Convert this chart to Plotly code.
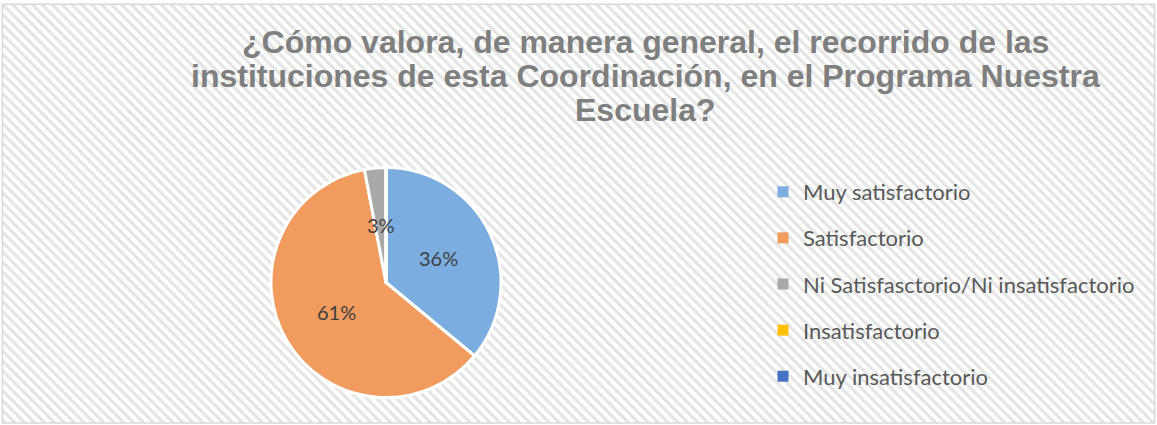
import math
import plotly.graph_objects as go

title_lines = [
    "¿Cómo valora, de manera general, el recorrido de las",
    "instituciones de esta Coordinación, en el Programa Nuestra",
    "Escuela?",
]
categories = [
    "Muy satisfactorio",
    "Satisfactorio",
    "Ni Satisfasctorio/Ni insatisfactorio",
    "Insatisfactorio",
    "Muy insatisfactorio",
]
values = [36, 61, 3, 0, 0]
colors = ["#7BADE0", "#F19B5F", "#A9A9A9", "#FFC000", "#4472C4"]

W, H = 1157, 425
# pie box in pixels
PX0, PX1, PY0, PY1 = 271, 501, 167, 398
CX, CY, R = (PX0 + PX1) / 2, (PY0 + PY1) / 2, (PX1 - PX0) / 2

fig = go.Figure()

# striped chart background
fig.add_trace(go.Bar(
    x=[0.5], y=[1], width=[1],
    marker=dict(color="#FFFFFF", line=dict(width=0),
                pattern=dict(shape="\\", size=7, solidity=0.45,
                             fgcolor="#E4E4E4", bgcolor="#FFFFFF", fillmode="replace")),
    showlegend=False, hoverinfo="skip",
))

fig.add_trace(go.Pie(
    labels=categories, values=values, sort=False, direction="clockwise", rotation=0,
    marker=dict(colors=colors, line=dict(color="#FFFFFF", width=3)),
    textinfo="none",
    domain=dict(x=[PX0 / W, PX1 / W], y=[1 - PY1 / H, 1 - PY0 / H]),
    showlegend=False, hoverinfo="label+percent",
))

# legend entries
for c, col in zip(categories, colors):
    fig.add_trace(go.Scatter(
        x=[None], y=[None], mode="markers", name=c, legendgroup=c,
        marker=dict(symbol="square", size=11, color=col),
    ))

annotations = []
# title lines
for i, line in enumerate(title_lines):
    annotations.append(dict(
        text=line, xref="paper", yref="paper", x=645 / W, y=1 - (42 + 34 * i) / H,
        xanchor="center", yanchor="middle", showarrow=False,
        font=dict(family="Liberation Sans, Arial, sans-serif", size=32, color="#7F7F7F", weight="bold"),
    ))

# data labels at the middle of each slice
total = sum(values)
cum = 0
for v in values:
    if v > 0:
        ang = 2 * math.pi * (cum + v / 2) / total
        lx = CX + 0.5 * R * math.sin(ang)
        ly = CY - 0.5 * R * math.cos(ang)
        annotations.append(dict(
            text=f"{round(100 * v / total)}%", xref="paper", yref="paper",
            x=lx / W, y=1 - ly / H, xanchor="center", yanchor="middle", showarrow=False,
            font=dict(family="Lato, Carlito, sans-serif", size=20, color="#404040"),
        ))
    cum += v

fig.update_layout(
    width=W, height=H,
    margin=dict(l=0, r=0, t=0, b=0),
    paper_bgcolor="#FFFFFF", plot_bgcolor="rgba(0,0,0,0)",
    bargap=0,
    xaxis=dict(range=[0, 1], visible=False, domain=[0.002, 0.998], fixedrange=True),
    yaxis=dict(range=[0, 1], visible=False, domain=[0.005, 0.99], fixedrange=True),
    legend=dict(
        x=763 / W, xanchor="left", y=1 - 171 / H, yanchor="top",
        bgcolor="rgba(0,0,0,0)", tracegroupgap=14.5, itemclick=False,
        font=dict(family="Lato, Carlito, sans-serif", size=22, color="#595959"),
    ),
    annotations=annotations,
    shapes=[dict(type="rect", xref="paper", yref="paper", x0=0.002, x1=0.998, y0=0.005, y1=0.99,
                 line=dict(color="#D9D9D9", width=1.5), fillcolor="rgba(0,0,0,0)")],
)

fig.write_html("out.html", config={"displayModeBar": False},
               post_script="document.body.style.margin='0px';document.body.style.overflow='hidden';")
